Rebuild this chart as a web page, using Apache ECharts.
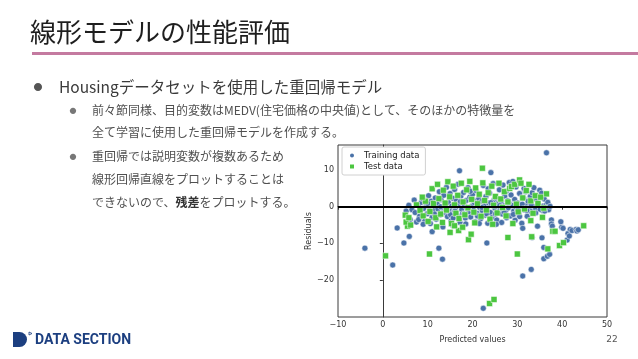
<!DOCTYPE html>
<html><head><meta charset="utf-8">
<script src="https://cdn.jsdelivr.net/npm/echarts@6/dist/echarts.min.js"></script>
<style>html,body{margin:0;padding:0;background:#fff}#c{width:638px;height:359px}</style>
</head><body><div id="c"></div>
<script>
const seriesNames = ['Training data', 'Test data'];
const xTicks = [-10, 0, 10, 20, 30, 40, 50];
const yTicks = [-20, -10, 0, 10];
const yRange = [-30.08, 16.83];
const zeroLine = 0;

const trainingPoints = [
[5.2,-1.2],[5.8,0.4],[6.1,-3.5],[6.5,-0.8],[7.0,1.8],[7.2,-1.6],[7.5,-4.2],[7.9,0.5],[8.2,-2.6],[8.6,1.2],
[8.9,2.1],[9.1,-0.5],[9.4,-3.8],[9.7,0.9],[9.9,-1.9],[10.2,3.0],[10.4,-0.2],[10.6,-4.6],[10.8,1.5],[11.0,-2.9],[11.2,0.3],[11.4,-1.1],
[11.7,2.4],[11.9,-3.4],[12.1,0.8],[12.3,-0.6],[12.6,4.1],[12.8,-2.2],[13.0,1.9],[13.2,-4.9],[13.4,-0.4],[13.6,3.1],[13.8,-1.5],[14.0,0.6],[14.2,5.3],[14.4,-2.7],
[14.6,1.2],[14.8,-0.9],[15.0,3.6],[15.2,-3.9],[15.4,0.2],[15.6,2.3],[15.8,-1.7],[16.0,4.7],[16.2,-0.3],[16.4,1.6],[16.6,-2.4],[16.8,6.1],[17.0,0.9],[17.2,-4.3],[17.4,2.9],[17.6,-0.8],[17.8,-1.9],[18.0,3.9],
[18.2,0.4],[18.4,-3.1],[18.6,1.7],[18.8,-0.5],[19.0,5.2],[19.2,-1.4],[19.4,2.6],[19.6,-2.8],[19.8,0.1],[20.0,3.3],[20.2,-0.9],[20.4,1.1],[20.6,-4.1],[20.8,4.4],[21.0,-1.8],[21.2,0.7],[21.4,2.2],[21.6,-0.2],[21.8,-3.3],
[22.0,1.4],[22.2,-1.1],[22.4,5.8],[22.6,0.3],[22.8,-2.3],[23.0,2.8],[23.2,-0.6],[23.4,-4.5],[23.6,1.0],[23.8,3.7],[24.0,-1.6],[24.2,0.5],[24.4,-2.9],[24.6,6.3],[24.8,1.8],[25.0,-0.4],[25.2,2.4],[25.4,-3.6],[25.6,0.8],[25.8,-1.3],
[26.0,4.6],[26.2,-0.7],[26.4,1.3],[26.6,-2.0],[26.8,5.9],[27.0,0.2],[27.2,2.9],[27.4,-1.0],[27.6,-3.0],[27.8,1.6],[28.0,-0.3],[28.2,6.6],[28.4,-2.5],[28.6,3.2],[28.8,0.4],[29.0,6.9],[29.2,-1.2],[29.4,2.0],[29.7,5.4],[29.9,-0.5],
[30.1,1.0],[30.3,-1.8],[30.5,3.6],[30.7,-0.2],[31.0,-4.5],[31.2,-5.9],[31.4,2.3],[31.6,-0.9],[31.8,4.1],[32.0,0.3],[32.2,-2.6],[32.4,1.5],[32.6,-0.4],[32.9,2.8],[33.1,-1.3],[33.3,3.8],[33.7,5.2],[33.9,0.0],
[34.1,-0.6],[34.3,1.9],[34.5,-5.3],[34.7,0.5],[35.0,4.5],[35.2,-0.3],[35.4,3.7],[35.6,-1.0],[35.8,0.2],[36.0,2.1],[36.2,-0.5],[36.4,0.4],[36.6,-0.2],[36.8,1.2],[37.0,-0.8],[37.3,0.1],[37.6,-3.6],[37.6,-4.7],[37.8,-5.3],
[-4.0,-11.3],[2.2,-15.9],[3.2,-5.8],[4.7,-9.9],[5.9,-8.1],[11.0,-6.8],[12.5,-11.3],[13.3,-14.3],[13.4,-5.5],[17.1,9.8],[24.1,9.3],[23.2,-9.9],[22.4,-27.7],
[31.2,-18.9],[33.1,-17.1],[35.5,-8.5],[35.9,-11.1],[35.9,-14.2],[36.7,-13.5],[37.2,-13.0],[36.5,14.7],[39.9,-5.6],[39.7,-4.1],[40.2,-5.9],[41.1,-9.1],[41.3,-7.3],
[41.6,-8.0],[41.8,-6.2],[42.2,-6.5],[43.1,-6.2],[43.3,-6.6],[43.6,-6.3],[28.4,-2.5],[33.3,-8.4],[30.5,-2.7],[26.5,-4.3],[18.5,-4.7],[15.5,-5.0],[9.0,-4.8],[8.0,-3.5],
[10.0,0.9],[11.5,-2.0],[12.9,0.0],[14.3,-1.0],[15.1,-2.2],[16.1,-1.2],[17.3,1.4],[18.1,-2.0],[19.1,-0.3],[20.1,1.9],[21.1,-2.5],[22.1,-0.2],[23.1,-1.9],[24.1,1.1],
[25.1,-2.0],[26.1,0.3],[27.1,-1.6],[28.1,1.1],[29.1,-2.1],[30.1,-0.9],[31.1,0.7],[32.1,-1.0],[33.1,0.6],[34.1,-1.7],[35.1,-0.7],[36.1,-1.2],[19.5,4.2],[23.5,4.9],
[27.5,4.2],[31.5,5.0],[15.7,-3.1],[21.5,-4.6],[25.3,-4.8],[29.5,-3.7]
];

const testPoints = [
[0.6,-13.4],[5.5,-5.3],[5.2,-4.2],[5.0,-2.3],[5.8,-3.0],[6.2,-5.0],[10.4,-12.9],[15.0,-7.0],[16.9,-6.5],[17.8,-5.6],[19.1,-9.0],[19.7,-7.5],[22.2,10.5],
[23.8,-26.4],[24.8,-25.3],[27.9,-8.4],[30.0,-12.9],[33.2,-8.2],[36.8,-11.5],[37.9,-6.7],[38.4,-6.7],[39.4,-10.6],[40.3,-9.8],[44.8,-5.2],[36.5,3.5],[35.6,-2.9],
[33.0,-3.8],[29.0,-4.6],
[7.5,0.5],[8.3,-1.0],[9.0,-2.5],[9.5,1.5],[10.1,-4.0],[10.5,-1.3],[11.0,4.9],[11.3,0.9],[11.8,-3.0],[12.2,6.1],[12.5,2.2],[12.9,-2.0],[13.3,-4.3],[13.5,4.5],
[13.9,1.0],[14.2,-0.9],[14.5,6.8],[14.9,2.7],[15.3,-4.6],[15.7,5.6],[16.0,0.5],[16.3,-1.8],[16.7,3.1],[17.0,-3.2],[17.5,6.4],[17.9,1.3],[18.3,-2.2],[18.7,4.6],
[19.0,-0.3],[19.4,6.9],[19.8,2.0],[20.3,-1.5],[20.7,5.1],[21.1,0.8],[21.5,3.4],[21.9,-2.6],[22.3,6.5],[22.7,1.7],[23.1,-0.9],[23.5,3.8],[23.9,-3.4],[24.3,5.6],
[24.7,0.4],[25.1,2.8],[25.5,-1.7],[25.9,6.4],[26.3,2.1],[26.7,-0.2],[27.1,4.1],[27.5,-2.5],[27.9,1.3],[28.3,5.0],[28.7,5.5],[29.4,6.1],[29.8,0.7],[30.2,-1.4],
[30.5,7.3],[30.8,6.4],[31.2,2.4],[31.6,-0.6],[32.0,4.4],[32.6,6.1],[33.0,1.6],[33.5,-1.8],[34.0,3.0],[34.6,0.9],[35.2,2.6],[35.9,-0.4],[16.0,-5.2],[20.5,-4.4],
[24.5,-4.8],[12.0,-5.5],[8.8,2.6]
];

const JP = '"Noto Sans CJK JP", sans-serif';
const chart = echarts.init(document.getElementById('c'), null, {renderer: 'canvas'});
const minus = v => String(v).replace('-', '\u2212');
const axisFont = {fontFamily: 'DejaVu Sans', fontSize: 8, color: '#333'};

chart.setOption({
  animation: false,
  backgroundColor: '#fff',
  grid: {left: 338, right: 31, top: 145, bottom: 42, show: true, borderColor: '#3a3a3a', borderWidth: 1},
  legend: {
    data: seriesNames, orient: 'vertical', left: 342, top: 147, itemGap: 2,
    itemWidth: 6, itemHeight: 6, padding: [4, 6, 4, 6],
    borderColor: '#d0d0d0', borderWidth: 1, borderRadius: 2, backgroundColor: '#fff',
    textStyle: {fontFamily: 'DejaVu Sans', fontSize: 8.5, color: '#222', padding: [0, 0, 0, 4]}
  },
  xAxis: {
    type: 'value', min: xTicks[0], max: xTicks[xTicks.length - 1], interval: 10,
    name: 'Predicted values', nameLocation: 'middle', nameGap: 19,
    nameTextStyle: {fontFamily: 'DejaVu Sans', fontSize: 8, color: '#333'},
    axisLine: {show: true, lineStyle: {color: '#3a3a3a', width: 1}},
    axisTick: {show: true, length: 3, lineStyle: {color: '#3a3a3a'}},
    axisLabel: Object.assign({margin: 4, formatter: minus}, axisFont),
    splitLine: {show: false}
  },
  yAxis: {
    type: 'value', min: yRange[0], max: yRange[1],
    name: 'Residuals', nameLocation: 'middle', nameGap: 17, nameRotate: 90,
    nameTextStyle: {fontFamily: 'DejaVu Sans', fontSize: 8, color: '#333'},
    axisLine: {show: true, lineStyle: {color: '#3a3a3a', width: 1}},
    axisTick: {show: true, length: 3, customValues: yTicks, lineStyle: {color: '#3a3a3a'}},
    axisLabel: Object.assign({margin: 4, customValues: yTicks, formatter: minus}, axisFont),
    splitLine: {show: false}
  },
  series: [
    {
      name: seriesNames[0], type: 'scatter', data: trainingPoints, symbol: 'circle', symbolSize: 6,
      itemStyle: {color: '#4a72a8', borderColor: '#fff', borderWidth: 0.5, opacity: 1},
      markLine: {silent: true, symbol: 'none', label: {show: false},
        lineStyle: {color: '#000', width: 1.8, type: 'solid'}, data: [{yAxis: zeroLine}]}
    },
    {
      name: seriesNames[1], type: 'scatter', data: testPoints, symbol: 'rect', symbolSize: 6,
      itemStyle: {color: '#4cc640', borderColor: '#fff', borderWidth: 0.5, opacity: 1}
    }
  ],
  graphic: [
    {type: 'text', left: 30, top: 19, style: {text: '線形モデルの性能評価', font: '26px ' + JP, fill: '#1e1e1e'}},
    {type: 'rect', shape: {x: 32, y: 52, width: 606, height: 3}, style: {fill: '#c47aa0'}},
    {type: 'text', x: 38, y: 87, style: {text: '●', font: '9px ' + JP, fill: '#555', align: 'center', verticalAlign: 'middle'}},
    {type: 'text', x: 59, y: 87, style: {text: 'Housingデータセットを使用した重回帰モデル', font: '15.5px ' + JP, fill: '#3a3a3a', verticalAlign: 'middle'}},
    {type: 'text', x: 73, y: 110, style: {text: '●', font: '7px ' + JP, fill: '#777', align: 'center', verticalAlign: 'middle'}},
    {type: 'text', x: 92, y: 110, style: {text: '前々節同様、目的変数はMEDV(住宅価格の中央値)として、そのほかの特徴量を', font: '12px ' + JP, fill: '#505050', verticalAlign: 'middle'}},
    {type: 'text', x: 92, y: 132, style: {text: '全て学習に使用した重回帰モデルを作成する。', font: '12px ' + JP, fill: '#505050', verticalAlign: 'middle'}},
    {type: 'text', x: 73, y: 156, style: {text: '●', font: '7px ' + JP, fill: '#777', align: 'center', verticalAlign: 'middle'}},
    {type: 'text', x: 92, y: 156, style: {text: '重回帰では説明変数が複数あるため', font: '12px ' + JP, fill: '#505050', verticalAlign: 'middle'}},
    {type: 'text', x: 92, y: 179, style: {text: '線形回帰直線をプロットすることは', font: '12px ' + JP, fill: '#505050', verticalAlign: 'middle'}},
    {type: 'text', x: 92, y: 202, style: {text: 'できないので、{b|残差}をプロットする。', font: '12px ' + JP, fill: '#505050', verticalAlign: 'middle',
      rich: {b: {fontFamily: '"Noto Sans CJK JP"', fontSize: 12, fontWeight: 'bold', fill: '#333', color: '#333'}}}},
    {type: 'rect', shape: {x: 13, y: 332, width: 14, height: 15, r: [0, 7.5, 7.5, 0]}, style: {fill: '#1c3f80'}},
    {type: 'polygon', shape: {points: [[29, 332], [32, 333.5], [29, 335]]}, style: {fill: 'none', stroke: '#1c3f80', lineWidth: 0.8}},
    {type: 'text', x: 35, y: 340, style: {text: 'DATA SECTION', font: 'bold 14px Roboto', fill: '#1c3f80', verticalAlign: 'middle'}},
    {type: 'text', x: 612, y: 340, style: {text: '22', font: '9px "DejaVu Sans"', fill: '#555', align: 'center', verticalAlign: 'middle'}}
  ]
});
</script></body></html>
